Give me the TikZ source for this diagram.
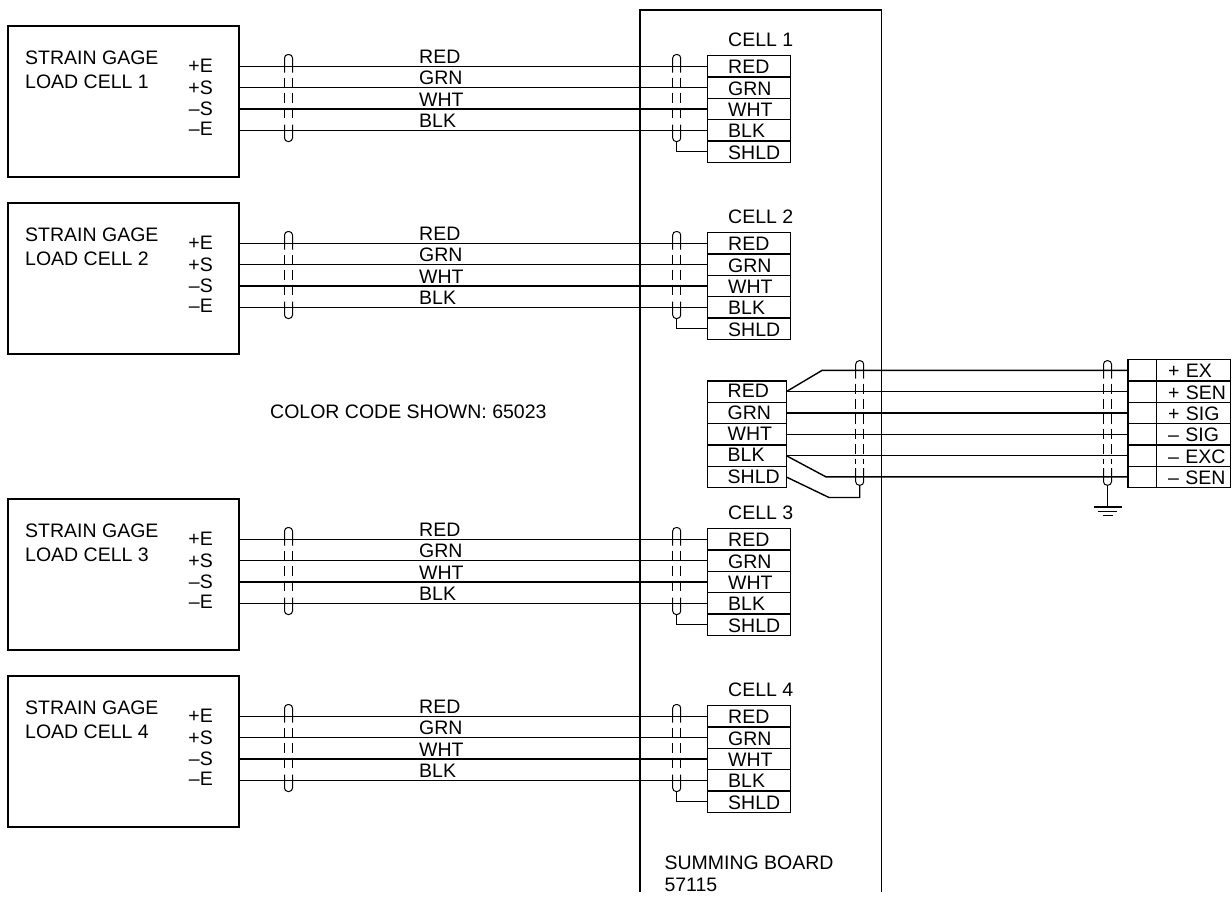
\documentclass[tikz,border=0pt]{standalone}
\usepackage{fontspec}
\setmainfont{Liberation Sans}
\tikzset{
  txt/.style={font=\fontsize{19.5}{24}\selectfont, inner sep=0, anchor=base west},
  pinlabel/.style={txt, anchor=base east},
  loadbox/.style={draw, line width=1.3pt, inner sep=0, outer sep=0, anchor=north west, minimum width=231, minimum height=151},
  rowbox/.style 2 args={draw, line width=1.2pt, inner sep=0, outer sep=0, anchor=west, minimum height=21.3,
    font=\fontsize{19.5}{24}\selectfont, text width=#1, align=left, text height=15, text depth=0,
    execute at begin node={\hspace*{#2pt}}},
  cellrow/.style={rowbox={83}{20.5}},
  outrow/.style={rowbox={78.5}{20}, text height=12.5},
  pinrow/.style={rowbox={74}{11.5}},
  blankrow/.style={draw, line width=1.2pt, inner sep=0, outer sep=0, anchor=west, minimum width=28.5, minimum height=21.3},
  wire/.style={line width=1.4pt},
  shield/.pic={
    \draw[line width=1pt, rounded corners=3.5] (0,18) -- (0,0) -- (8,0) -- (8,18);
    \draw[line width=1pt, dash pattern=on 10pt off 5pt] (0,23) -- (0,#1-21);
    \draw[line width=1pt, dash pattern=on 10pt off 5pt] (8,23) -- (8,#1-21);
    \draw[line width=1pt, rounded corners=3.5] (0,#1-17) -- (0,#1) -- (8,#1) -- (8,#1-17);
    \coordinate (-bot) at (4,#1);
  }
}
\begin{document}
\begin{tikzpicture}[x=1pt,y=-1pt]
  \useasboundingbox (0,0) rectangle (1232,898);
  % summing board, open at the bottom
  \draw[line width=1.3pt] (640,892) -- (640,10) -- (881.5,10) -- (881.5,892);
  \node[txt, align=left] (board) at (664.3,891.7) {SUMMING BOARD\\[-1.6pt]57115};
  \node[txt] (code) at (270,418.3) {COLOR CODE SHOWN: 65023};

  % load cell 1
  \node[loadbox] (b1) at (8,26) {};
  \node[txt, align=left] (n1) at (25,88) {STRAIN GAGE\\LOAD CELL 1};
  \path (213,72.7) node[pinlabel] (p11){+E}
    (213,94) node[pinlabel] (p12){+S}
    (213,115) node[pinlabel] (p13){–S}
    (213,135.5) node[pinlabel] (p14){–E};
  \node[txt] (t1) at (728,46.7) {CELL 1};
  \path (707.7,66.4) node[cellrow] (c1r1){RED}
    (707.7,87.7) node[cellrow] (c1r2){GRN}
    (707.7,109) node[cellrow] (c1r3){WHT}
    (707.7,130.3) node[cellrow] (c1r4){BLK}
    (707.7,151.6) node[cellrow] (c1r5){SHLD};
  \path (419,63.5) node[txt] (w11){RED}
    (419,84.5) node[txt] (w12){GRN}
    (419,106) node[txt] (w13){WHT}
    (419,127) node[txt] (w14){BLK};
  \pic (sa1) at (284.5,54.5) {shield=87};
  \pic (sb1) at (672.7,54.5) {shield=87};
  \draw[wire] (b1.east |- c1r1) -- (c1r1);
  \draw[wire] (b1.east |- c1r2) -- (c1r2);
  \draw[wire] (b1.east |- c1r3) -- (c1r3);
  \draw[wire] (b1.east |- c1r4) -- (c1r4);
  \draw[wire] (sb1-bot) |- (c1r5);

  % load cell 2
  \node[loadbox] (b2) at (8,203) {};
  \node[txt, align=left] (n2) at (25,265) {STRAIN GAGE\\LOAD CELL 2};
  \path (213,249.7) node[pinlabel] (p21){+E}
    (213,271) node[pinlabel] (p22){+S}
    (213,292) node[pinlabel] (p23){–S}
    (213,312.5) node[pinlabel] (p24){–E};
  \node[txt] (t2) at (728,223.7) {CELL 2};
  \path (707.7,243.4) node[cellrow] (c2r1){RED}
    (707.7,264.7) node[cellrow] (c2r2){GRN}
    (707.7,286) node[cellrow] (c2r3){WHT}
    (707.7,307.3) node[cellrow] (c2r4){BLK}
    (707.7,328.6) node[cellrow] (c2r5){SHLD};
  \path (419,240.5) node[txt] (w21){RED}
    (419,261.5) node[txt] (w22){GRN}
    (419,283) node[txt] (w23){WHT}
    (419,304) node[txt] (w24){BLK};
  \pic (sa2) at (284.5,231.5) {shield=87};
  \pic (sb2) at (672.7,231.5) {shield=87};
  \draw[wire] (b2.east |- c2r1) -- (c2r1);
  \draw[wire] (b2.east |- c2r2) -- (c2r2);
  \draw[wire] (b2.east |- c2r3) -- (c2r3);
  \draw[wire] (b2.east |- c2r4) -- (c2r4);
  \draw[wire] (sb2-bot) |- (c2r5);

  % load cell 3
  \node[loadbox] (b3) at (8,499) {};
  \node[txt, align=left] (n3) at (25,561) {STRAIN GAGE\\LOAD CELL 3};
  \path (213,545.7) node[pinlabel] (p31){+E}
    (213,567) node[pinlabel] (p32){+S}
    (213,588) node[pinlabel] (p33){–S}
    (213,608.5) node[pinlabel] (p34){–E};
  \node[txt] (t3) at (728,519.7) {CELL 3};
  \path (707.7,539.4) node[cellrow] (c3r1){RED}
    (707.7,560.7) node[cellrow] (c3r2){GRN}
    (707.7,582) node[cellrow] (c3r3){WHT}
    (707.7,603.3) node[cellrow] (c3r4){BLK}
    (707.7,624.6) node[cellrow] (c3r5){SHLD};
  \path (419,536.5) node[txt] (w31){RED}
    (419,557.5) node[txt] (w32){GRN}
    (419,579) node[txt] (w33){WHT}
    (419,600) node[txt] (w34){BLK};
  \pic (sa3) at (284.5,527.5) {shield=87};
  \pic (sb3) at (672.7,527.5) {shield=87};
  \draw[wire] (b3.east |- c3r1) -- (c3r1);
  \draw[wire] (b3.east |- c3r2) -- (c3r2);
  \draw[wire] (b3.east |- c3r3) -- (c3r3);
  \draw[wire] (b3.east |- c3r4) -- (c3r4);
  \draw[wire] (sb3-bot) |- (c3r5);

  % load cell 4
  \node[loadbox] (b4) at (8,676) {};
  \node[txt, align=left] (n4) at (25,738) {STRAIN GAGE\\LOAD CELL 4};
  \path (213,722.7) node[pinlabel] (p41){+E}
    (213,744) node[pinlabel] (p42){+S}
    (213,765) node[pinlabel] (p43){–S}
    (213,785.5) node[pinlabel] (p44){–E};
  \node[txt] (t4) at (728,696.7) {CELL 4};
  \path (707.7,716.4) node[cellrow] (c4r1){RED}
    (707.7,737.7) node[cellrow] (c4r2){GRN}
    (707.7,759) node[cellrow] (c4r3){WHT}
    (707.7,780.3) node[cellrow] (c4r4){BLK}
    (707.7,801.6) node[cellrow] (c4r5){SHLD};
  \path (419,713.5) node[txt] (w41){RED}
    (419,734.5) node[txt] (w42){GRN}
    (419,756) node[txt] (w43){WHT}
    (419,777) node[txt] (w44){BLK};
  \pic (sa4) at (284.5,704.5) {shield=87};
  \pic (sb4) at (672.7,704.5) {shield=87};
  \draw[wire] (b4.east |- c4r1) -- (c4r1);
  \draw[wire] (b4.east |- c4r2) -- (c4r2);
  \draw[wire] (b4.east |- c4r3) -- (c4r3);
  \draw[wire] (b4.east |- c4r4) -- (c4r4);
  \draw[wire] (sb4-bot) |- (c4r5);

  % output block and terminal strip
  \path (707.7,391.7) node[outrow] (o1){RED}
    (707.7,413) node[outrow] (o2){GRN}
    (707.7,434.3) node[outrow] (o3){WHT}
    (707.7,455.6) node[outrow] (o4){BLK}
    (707.7,476.9) node[outrow] (o5){SHLD};
  \path (1128,370.4) node[blankrow] (e1){}
    (1128,391.7) node[blankrow] (e2){}
    (1128,413) node[blankrow] (e3){}
    (1128,434.3) node[blankrow] (e4){}
    (1128,455.6) node[blankrow] (e5){}
    (1128,476.9) node[blankrow] (e6){};
  \path (1156.5,370.4) node[pinrow] (r1){+ EX}
    (1156.5,391.7) node[pinrow] (r2){+ SEN}
    (1156.5,413) node[pinrow] (r3){+ SIG}
    (1156.5,434.3) node[pinrow] (r4){– SIG}
    (1156.5,455.6) node[pinrow] (r5){– EXC}
    (1156.5,476.9) node[pinrow] (r6){– SEN};
  \pic (so) at (855.7,360.7) {shield=124.5};
  \pic (st) at (1103.5,360.7) {shield=124.5};
  \coordinate (k1) at (822,370.4);
  \coordinate (k2) at (826,476.9);
  \coordinate (k3) at (829,497.5);
  \coordinate (gnd) at (1107.5,507);
  \draw[wire] (o1.east) -- (k1) -- (e1);
  \draw[wire] (o1) -- (e2);
  \draw[wire] (o2) -- (e3);
  \draw[wire] (o3) -- (e4);
  \draw[wire] (o4) -- (e5);
  \draw[wire] (o4.east) -- (k2) -- (e6);
  \draw[wire] (o5.east) -- (k3) -| (so-bot);
  \draw[wire] (st-bot) -- (gnd);
  % ground
  \draw[wire] (1093.5,507) -- (1121.5,507);
  \draw[line width=1pt] (1098,511.3) -- (1117,511.3);
  \draw[line width=1pt] (1102.5,515.6) -- (1112.5,515.6);
\end{tikzpicture}
\end{document}
